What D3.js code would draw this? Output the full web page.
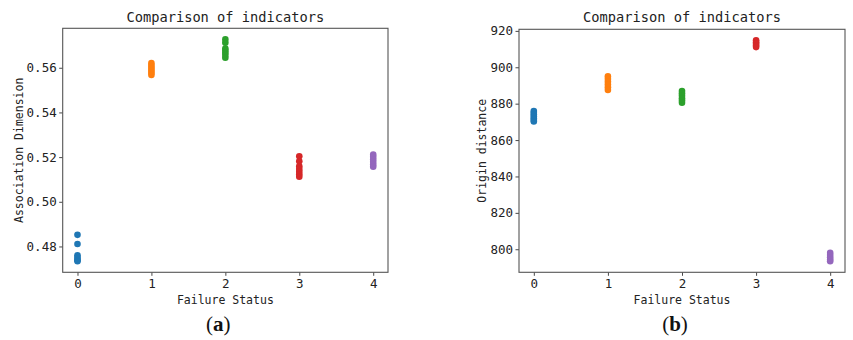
<!DOCTYPE html>
<html>
<head>
<meta charset="utf-8">
<script src="https://cdn.jsdelivr.net/npm/d3@7"></script>
<style>
  html, body { margin: 0; padding: 0; background: #fff; }
  svg { display: block; }
  .mono { font-family: "DejaVu Sans Mono", monospace; fill: #222; }
</style>
</head>
<body>
<svg id="chart" width="853" height="340"></svg>
<script>
// Failure status categories (x positions)
const statuses = [0, 1, 2, 3, 4];
const statusColors = ["#1f77b4", "#ff7f0e", "#2ca02c", "#d62728", "#9467bd"];

// Panel (a): association dimension per failure status
const assocStatus0 = [0.4852, 0.4811, 0.4761, 0.4753, 0.4744, 0.4738, 0.4734];
const assocStatus1 = [0.5621, 0.5612, 0.5603, 0.5595, 0.5586, 0.5577, 0.5568];
const assocStatus2 = [0.5727, 0.5712, 0.5686, 0.5677, 0.5667, 0.5657, 0.5645];
const assocStatus3 = [0.5204, 0.5181, 0.5159, 0.5147, 0.5135, 0.5123, 0.5112];
const assocStatus4 = [0.5211, 0.5200, 0.5189, 0.5178, 0.5167, 0.5157];
const assocTicks = [0.48, 0.50, 0.52, 0.54, 0.56];

// Panel (b): origin distance per failure status
const originStatus0 = [876, 875, 874, 873, 872, 871, 870.2];
const originStatus1 = [895, 893.5, 892, 890.5, 889, 887.5];
const originStatus2 = [887, 885.7, 884.4, 883, 881.8, 880.5];
const originStatus3 = [914.8, 913.8, 912.9, 912, 911.1];
const originStatus4 = [798, 796.8, 795.6, 794.4, 793.4];
const originTicks = [800, 820, 840, 860, 880, 900, 920];

const xTicks = [0, 1, 2, 3, 4];

const svg = d3.select("#chart");

function panel(opts) {
  const { left, right, top, bottom, groups, yTicks, yFormat, yLabel, yLabelX, caption } = opts;
  const g = svg.append("g");

  // 5% margins on both axes, as in matplotlib's autoscale
  const all = groups.flat();
  const [ymin, ymax] = d3.extent(all);
  const yPad = (ymax - ymin) * 0.05;
  const xPad = (d3.max(statuses) - d3.min(statuses)) * 0.05;

  const x = d3.scaleLinear()
    .domain([d3.min(statuses) - xPad, d3.max(statuses) + xPad])
    .range([left, right]);
  const y = d3.scaleLinear()
    .domain([ymin - yPad, ymax + yPad])
    .range([bottom, top]);

  // points
  groups.forEach((vals, i) => {
    g.append("g").selectAll("circle")
      .data(vals)
      .enter().append("circle")
      .attr("cx", x(statuses[i]))
      .attr("cy", d => y(d))
      .attr("r", 3.3)
      .attr("fill", statusColors[i]);
  });

  // axes
  const xAxis = g.append("g")
    .attr("transform", `translate(0,${bottom})`)
    .call(d3.axisBottom(x).tickValues(xTicks).tickFormat(d3.format("d")).tickSizeOuter(0).tickSize(3.5).tickPadding(3));
  const yAxis = g.append("g")
    .attr("transform", `translate(${left},0)`)
    .call(d3.axisLeft(y).tickValues(yTicks).tickFormat(yFormat).tickSizeOuter(0).tickSize(3.5).tickPadding(2.5));
  [xAxis, yAxis].forEach(a => {
    a.select(".domain").remove();
    a.selectAll("line").attr("stroke", "#333").attr("stroke-width", 0.9);
    a.selectAll("text")
      .attr("class", "mono")
      .style("font-size", "12.5px")
      .attr("fill", "#222");
  });

  // frame
  g.append("rect")
    .attr("x", left).attr("y", top)
    .attr("width", right - left).attr("height", bottom - top)
    .attr("fill", "none").attr("stroke", "#555").attr("stroke-width", 1.1);

  // title
  g.append("text")
    .attr("class", "mono")
    .attr("x", (left + right) / 2).attr("y", 21.5)
    .attr("text-anchor", "middle")
    .style("font-size", "13.7px")
    .text("Comparison of indicators");

  // x label
  g.append("text")
    .attr("class", "mono")
    .attr("x", (left + right) / 2).attr("y", 304)
    .attr("text-anchor", "middle")
    .style("font-size", "11.5px")
    .text("Failure Status");

  // y label
  g.append("text")
    .attr("class", "mono")
    .attr("transform", `translate(${yLabelX},${(top + bottom) / 2}) rotate(-90)`)
    .attr("text-anchor", "middle")
    .style("font-size", "11.5px")
    .text(yLabel);

  // panel caption
  const cap = g.append("text")
    .attr("x", (left + right) / 2 - 7).attr("y", 331)
    .attr("text-anchor", "middle")
    .style("font-family", "'Liberation Serif', serif")
    .style("font-size", "21px")
    .attr("fill", "#111");
  cap.append("tspan").text("(");
  cap.append("tspan").style("font-weight", "bold").text(caption);
  cap.append("tspan").text(")");
}

panel({
  left: 62.7, right: 388, top: 28.3, bottom: 272.3,
  groups: [assocStatus0, assocStatus1, assocStatus2, assocStatus3, assocStatus4],
  yTicks: assocTicks, yFormat: d3.format(".2f"),
  yLabel: "Association Dimension", yLabelX: 22.5, caption: "a"
});

panel({
  left: 519, right: 845, top: 29.3, bottom: 272.3,
  groups: [originStatus0, originStatus1, originStatus2, originStatus3, originStatus4],
  yTicks: originTicks, yFormat: d3.format("d"),
  yLabel: "Origin distance", yLabelX: 486, caption: "b"
});
</script>
</body>
</html>
